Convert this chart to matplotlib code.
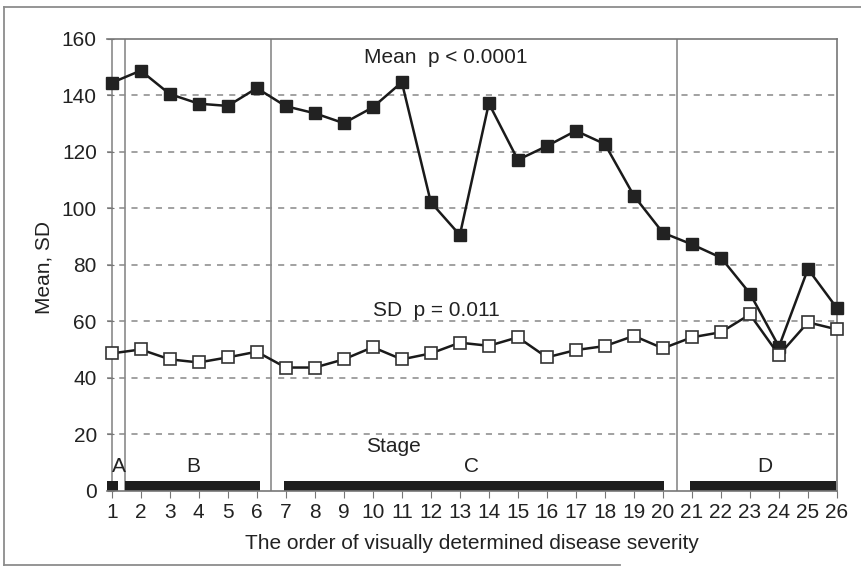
import matplotlib
matplotlib.use("Agg")
import matplotlib.pyplot as plt
from matplotlib.lines import Line2D

plt.rcParams['font.family'] = ['Liberation Sans', 'DejaVu Sans']

# order of visually determined disease severity
order = list(range(1, 27))
mean_vals = [144.5, 148.8, 140.5, 137.1, 136.3, 142.6, 136.2, 133.7, 130.2, 135.8,
             144.7, 102.2, 90.6, 137.2, 117.2, 122.1, 127.5, 122.8, 104.5, 91.4,
             87.3, 82.6, 69.9, 51.1, 78.6, 64.7]
sd_vals = [48.7, 50.1, 46.6, 45.5, 47.3, 49.3, 43.7, 43.7, 46.6, 50.9,
           46.6, 48.7, 52.5, 51.4, 54.4, 47.3, 49.9, 51.3, 54.9, 50.5,
           54.4, 56.2, 62.5, 48.1, 59.7, 57.2]

# stage bars along the bottom (start, end) and their labels
stage_names = ['A', 'B', 'C', 'D']
stage_spans = [(0.82, 1.23), (1.47, 6.12), (6.95, 20.05), (20.95, 25.96)]
stage_label_x = [1.23, 3.82, 13.4, 23.5]
stage_bounds = [1.0, 1.47, 6.5, 20.5]
bar_height = 3.6

yticks = list(range(0, 161, 20))

fig = plt.figure(figsize=(8.61, 5.74), dpi=100)
ax = fig.add_axes([0.1237, 0.1446, 0.8484, 0.7875])

ax.set_xlim(0.82, 26.0)
ax.set_ylim(0, 160)

# dashed grid
for v in yticks[1:-1]:
    ax.axhline(v, color='#888888', lw=1.1, dashes=(4, 4), zorder=1)

# stage boundaries
for b in stage_bounds:
    ax.axvline(b, color='#8a8a8a', lw=1.2, zorder=1)

# stage bars
for (s, e) in stage_spans:
    ax.broken_barh([(s, e - s)], (0, bar_height), facecolors='#1e1e1e', zorder=2)

ax.plot(order, mean_vals, color='#1a1a1a', lw=1.8, marker='s', markersize=8,
        markerfacecolor='#222222', markeredgecolor='#222222', zorder=4, clip_on=False)
ax.plot(order, sd_vals, color='#1a1a1a', lw=1.8, marker='s', markersize=8,
        markerfacecolor='white', markeredgecolor='#333333', markeredgewidth=1.2,
        zorder=4, clip_on=False)

ax.text(12.5, 153.6, 'Mean  p < 0.0001', fontsize=15, ha='center', va='center', color='#222222')
ax.text(12.2, 64.0, 'SD  p = 0.011', fontsize=15, ha='center', va='center', color='#222222')
ax.text(10.7, 15.9, 'Stage', fontsize=15, ha='center', va='center', color='#222222')
for name, lx in zip(stage_names, stage_label_x):
    ax.text(lx, 8.7, name, fontsize=15, ha='center', va='center', color='#222222')

ax.spines['left'].set_visible(False)
for sp in ['top', 'right', 'bottom']:
    ax.spines[sp].set_color('#777777')
    ax.spines[sp].set_linewidth(1.2)

ax.set_xticks(order)
ax.set_yticks(yticks)
ax.tick_params(axis='x', direction='out', length=5, color='#777777', labelsize=15,
               pad=4, labelcolor='#222222')
ax.tick_params(axis='y', direction='in', length=5, color='#777777', labelsize=15,
               pad=7, labelcolor='#222222')

ax.set_xlabel('The order of visually determined disease severity', fontsize=15,
              color='#222222', labelpad=8)
fig.text(44 / 861, 1 - 267 / 574, 'Mean, SD', rotation=90, fontsize=15,
         ha='center', va='center', color='#222222')

# scanned outer frame (left, top and part of bottom)
frame = dict(color='#8c8c8c', lw=1.3, transform=fig.transFigure)
fig.add_artist(Line2D([4 / 861, 4 / 861], [1 - 565 / 574, 1 - 7 / 574], **frame))
fig.add_artist(Line2D([4 / 861, 1.0], [1 - 7 / 574, 1 - 7 / 574], **frame))
fig.add_artist(Line2D([4 / 861, 620 / 861], [1 - 565 / 574, 1 - 565 / 574], **frame))

fig.savefig('out.png', dpi=100)
